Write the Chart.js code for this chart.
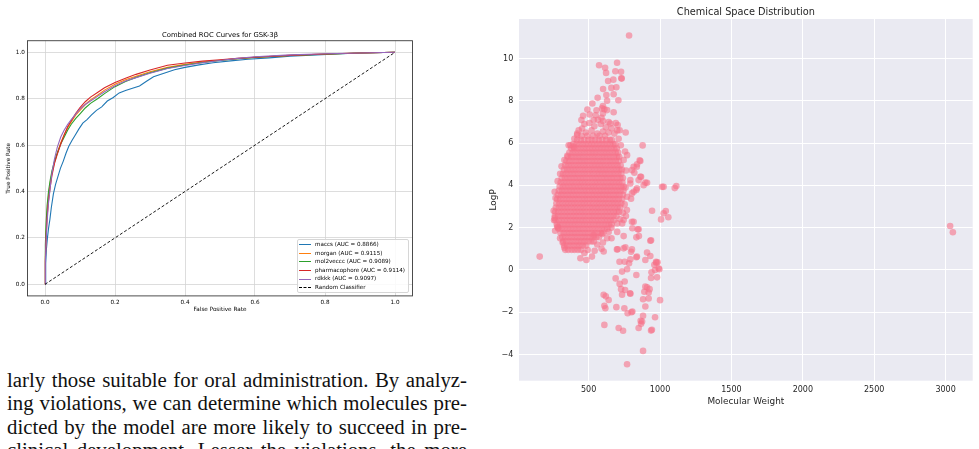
<!DOCTYPE html>
<html><head><meta charset="utf-8">
<script src="https://cdn.jsdelivr.net/npm/chart.js@4.4.0/dist/chart.umd.min.js"></script>
<style>
html,body{margin:0;padding:0;background:#fff;width:979px;height:449px;overflow:hidden;position:relative}
#roc{position:absolute;left:0;top:0;width:420px;height:320px}
#chem{position:absolute;left:480px;top:0;width:499px;height:420px}
#rocLegend{position:absolute;left:296.5px;top:238.6px;width:112px;box-sizing:border-box;background:rgba(255,255,255,0.85);border:1px solid #d6d6d6;border-radius:2px;padding:0.5px 0 0.5px 0;font-family:"DejaVu Sans";font-size:5.6px;color:#000}
#rocLegend .row{position:relative;height:8.6px;line-height:8.6px;white-space:nowrap}
#rocLegend .hl{position:absolute;left:1.5px;top:4.2px;width:11.5px;height:0;border-top:1.1px solid #000}
#rocLegend .tx{position:absolute;left:17.5px;top:0}
.para{position:absolute;left:7px;top:368px;width:460px;font-family:"Liberation Serif";font-size:20.8px;line-height:23.3px;color:#111}
.para div{height:23.3px;text-align:justify;text-align-last:justify}
</style></head>
<body>
<canvas id="roc" width="420" height="320"></canvas>
<div id="rocLegend"></div>
<canvas id="chem" width="499" height="420"></canvas>
<div class="para">
<div>larly those suitable for oral administration. By analyz-</div>
<div>ing violations, we can determine which molecules pre-</div>
<div>dicted by the model are more likely to succeed in pre-</div>
<div>clinical development. Lesser the violations, the more</div>
</div>
<script>
// ---------- ROC data ----------
const modelNames = ['maccs', 'morgan', 'mol2veccc', 'pharmacophore', 'rdkkk'];
const modelAuc = ['0.8866', '0.9115', '0.9089', '0.9114', '0.9097'];
const modelColors = ['#1f77b4', '#ff7f0e', '#2ca02c', '#d62728', '#9467bd'];
const maccsFpr = [0, 0.002, 0.004, 0.007, 0.010, 0.014, 0.018, 0.024, 0.030, 0.036, 0.044, 0.052, 0.060, 0.068, 0.077, 0.087, 0.097, 0.108, 0.120, 0.133, 0.147, 0.162, 0.178, 0.195, 0.212, 0.23, 0.25, 0.27, 0.29, 0.31, 0.34, 0.37, 0.40, 0.44, 0.48, 0.53, 0.58, 0.64, 0.70, 0.76, 0.82, 0.88, 0.94, 1.0];
const maccsTpr = [0, 0.09, 0.15, 0.20, 0.24, 0.28, 0.33, 0.39, 0.43, 0.46, 0.50, 0.53, 0.565, 0.595, 0.62, 0.645, 0.67, 0.695, 0.71, 0.73, 0.75, 0.765, 0.79, 0.805, 0.825, 0.835, 0.845, 0.855, 0.875, 0.895, 0.91, 0.925, 0.935, 0.946, 0.955, 0.963, 0.970, 0.976, 0.983, 0.988, 0.992, 0.996, 0.998, 1.0];
const commonFpr = [0, 0.001, 0.003, 0.006, 0.010, 0.015, 0.020, 0.027, 0.035, 0.045, 0.055, 0.065, 0.075, 0.088, 0.100, 0.115, 0.130, 0.150, 0.170, 0.200, 0.230, 0.260, 0.300, 0.350, 0.400, 0.450, 0.500, 0.550, 0.600, 0.700, 0.800, 0.900, 1.0];
const morganTpr = [0, 0.12, 0.22, 0.31, 0.38, 0.44, 0.48, 0.525, 0.565, 0.61, 0.645, 0.675, 0.70, 0.73, 0.75, 0.775, 0.795, 0.815, 0.837, 0.862, 0.882, 0.897, 0.916, 0.935, 0.948, 0.958, 0.966, 0.973, 0.979, 0.987, 0.993, 0.997, 1.0];
const mol2vecTpr = [0, 0.17, 0.26, 0.34, 0.40, 0.45, 0.49, 0.53, 0.565, 0.605, 0.635, 0.665, 0.69, 0.715, 0.735, 0.76, 0.78, 0.80, 0.822, 0.852, 0.874, 0.892, 0.912, 0.932, 0.945, 0.956, 0.965, 0.972, 0.978, 0.986, 0.992, 0.997, 1.0];
const pharmTpr = [0, 0.10, 0.20, 0.29, 0.36, 0.42, 0.47, 0.52, 0.56, 0.605, 0.645, 0.68, 0.705, 0.737, 0.762, 0.787, 0.807, 0.827, 0.847, 0.870, 0.888, 0.905, 0.924, 0.944, 0.954, 0.962, 0.968, 0.974, 0.979, 0.987, 0.993, 0.997, 1.0];
const rdkitTpr = [0, 0.09, 0.18, 0.27, 0.35, 0.42, 0.48, 0.54, 0.59, 0.635, 0.665, 0.69, 0.71, 0.735, 0.755, 0.775, 0.79, 0.81, 0.83, 0.856, 0.876, 0.891, 0.910, 0.930, 0.943, 0.955, 0.965, 0.974, 0.981, 0.989, 0.994, 0.997, 1.0];
const randomFpr = [0, 1];
const randomTpr = [0, 1];
const rocTicks = [0, 0.2, 0.4, 0.6, 0.8, 1.0];

// ---------- Chemical space data ----------
const blobLogP = [0.95, 1.15, 1.35, 1.55, 1.75, 1.95, 2.15, 2.35, 2.55, 2.75, 2.95, 3.15, 3.35, 3.55, 3.75, 3.95, 4.15, 4.35, 4.55, 4.75, 4.95, 5.15, 5.35, 5.55, 5.75, 5.95, 6.15, 6.35];
const blobMW = [
 [336, 357, 381, 402, 425, 447],
 [328, 350, 371, 394, 416, 437, 459, 482],
 [322, 343, 366, 387, 410, 431, 453, 474, 497, 518, 536],
 [315, 337, 358, 380, 402, 423, 446, 467, 489, 510, 532, 553, 572],
 [303, 325, 347, 368, 390, 411, 434, 455, 477, 498, 520, 542, 563, 585, 603],
 [289, 311, 332, 354, 375, 397, 419, 440, 462, 484, 505, 527, 548, 570, 592, 613, 632],
 [277, 298, 320, 342, 363, 385, 406, 428, 450, 471, 493, 514, 536, 558, 579, 601, 622, 643, 661],
 [267, 289, 310, 332, 353, 375, 397, 418, 440, 461, 483, 505, 526, 548, 569, 591, 613, 634, 656, 677],
 [263, 285, 306, 328, 350, 371, 393, 414, 436, 458, 479, 501, 522, 544, 566, 587, 609, 630, 652, 674, 695],
 [266, 288, 309, 331, 352, 374, 396, 417, 439, 460, 482, 504, 525, 547, 568, 590, 612, 633, 655, 676, 698, 713],
 [270, 292, 313, 335, 356, 378, 400, 421, 443, 464, 486, 508, 529, 551, 572, 594, 616, 637, 659, 680, 702, 721],
 [274, 295, 317, 339, 360, 382, 403, 425, 447, 468, 490, 511, 533, 555, 576, 598, 619, 641, 663, 684, 706, 728],
 [279, 300, 322, 344, 365, 387, 408, 430, 452, 473, 495, 516, 538, 560, 581, 603, 624, 646, 668, 689, 711, 735],
 [284, 306, 327, 349, 371, 392, 414, 435, 457, 479, 500, 522, 543, 565, 587, 608, 630, 651, 673, 695, 716, 740],
 [291, 312, 334, 356, 377, 399, 420, 442, 464, 485, 507, 528, 550, 572, 593, 615, 636, 658, 680, 701, 723, 744],
 [297, 319, 340, 362, 384, 405, 427, 448, 470, 492, 513, 535, 556, 578, 600, 621, 643, 664, 686, 708, 729, 746],
 [304, 326, 347, 369, 390, 412, 434, 455, 477, 498, 520, 542, 563, 585, 606, 628, 650, 671, 693, 714, 736],
 [311, 333, 354, 376, 398, 419, 441, 462, 484, 506, 527, 549, 570, 592, 614, 635, 657, 678, 700, 722, 740],
 [319, 341, 362, 384, 405, 427, 449, 470, 492, 513, 535, 557, 578, 600, 621, 643, 665, 686, 708, 729],
 [327, 349, 370, 392, 413, 435, 457, 478, 500, 521, 543, 565, 586, 608, 629, 651, 673, 694, 716, 733],
 [335, 357, 378, 400, 422, 443, 465, 486, 508, 530, 551, 573, 594, 616, 638, 659, 681, 702, 724],
 [344, 366, 387, 409, 431, 452, 474, 495, 517, 539, 560, 582, 603, 625, 647, 668, 690, 711],
 [354, 376, 397, 419, 440, 462, 484, 505, 527, 548, 570, 592, 613, 635, 656, 678, 700, 714],
 [365, 387, 408, 430, 451, 473, 495, 516, 538, 559, 581, 603, 624, 646, 667, 689, 706],
 [377, 399, 420, 442, 464, 485, 507, 528, 550, 572, 593, 615, 636, 658, 680, 697],
 [392, 414, 435, 457, 479, 500, 522, 543, 565, 587, 608, 630, 651, 673, 686],
 [420, 445, 470, 498, 520, 546, 570, 596, 622, 648, 662],
 [450, 490, 530, 575, 615]
];
const sparsePoints = [
 [783,11.09],[573,9.68],[615,9.56],[699,9.8],[622,9.32],[687,9.4],[727,9.37],[729,9.07],[731,9.05],[636,8.94],[673,9.0],
 [601,8.56],[659,8.61],[694,8.64],[624,8.27],[675,8.31],[708,8.03],[526,7.87],[563,8.14],[629,8.0],[491,7.59],[461,7.29],
 [507,7.35],[549,7.32],[594,7.64],[629,7.56],[675,7.46],[449,7.09],[535,7.09],[601,7.04],[652,6.93],[703,6.85],[759,6.5],
 [717,6.61],[454,6.69],[419,6.38],[878,5.89],[395,5.82],[769,5.43],[745,5.2],[857,5.18],[839,5.0],[837,4.88],[820,4.6],
 [862,4.41],[909,4.12],[792,4.09],[834,3.78],[885,4.01],[769,3.46],
 [480,6.5],[520,6.6],[560,6.45],[600,6.55],[640,6.5],[540,6.8],[585,6.9],[620,6.75],[660,6.7],[505,6.95],[565,7.1],
 [610,7.6],[600,7.4],[590,7.2],[640,7.0],[690,6.95],[700,6.6],[470,6.9],[430,6.6],[680,6.45],[555,7.55],[600,7.75],
 [157,0.63],[268,3.4],[262,2.45],[258,2.35],[265,1.85],[280,2.05],[300,4.55],[330,1.05],[318,1.3],[350,5.4],[372,5.9],[400,6.2],
 [442,0.55],[484,0.47],[523,0.63],[542,0.91],[493,0.94],[605,0.87],[535,1.65],[594,1.7],[629,1.5],[698,0.97],[745,1.02],
 [757,1.07],[803,0.97],[716,0.39],[792,0.5],[838,0.63],[560,1.2],[600,1.3],[640,1.8],[660,2.0],[700,2.2],[720,2.4],[740,2.7],[745,1.6],
 [755,5.6],[762,4.7],[758,3.9],[752,3.1],[735,2.2],[700,1.8],[660,1.5],[590,1.0],[470,0.8],[300,1.5],[285,2.0],[255,2.8],
 [262,3.7],[283,4.2],[310,4.9],[330,5.2],[360,5.9],[420,6.45],[710,6.2],[725,5.9],
 [944,2.8],[815,2.28],[843,1.92],[806,1.97],[834,1.54],[932,1.38],[803,2.28],[850,1.92],[852,1.6],[815,4.88],[862,5.15],
 [803,4.72],[792,4.25],[850,4.25],[867,4.41],[897,4.13],[803,3.62],[815,3.7],[838,3.86],[797,3.37],[768,2.83],[761,2.55],
 [745,2.36],[1014,3.93],[1025,3.93],[1103,3.87],[1114,3.97],[1040,2.79],[1025,2.68],[1007,2.39],[1058,2.49],[3032,2.08],[3051,1.78],
 [703,0.98],[797,0.86],[834,0.6],[909,0.82],[897,0.47],[974,0.34],[960,0.24],[990,0.08],[752,0.39],[783,0.31],[769,0.03],
 [734,-0.08],[834,-0.24],[689,-0.4],[717,-0.66],[752,-0.55],[909,-0.82],[727,-0.91],[755,-0.95],[792,-1.13],[734,-1.17],
 [890,-1.03],[927,-0.91],[605,-1.18],[640,-1.42],[881,-1.39],[920,-1.35],[610,-1.7],[617,-1.81],[694,-1.76],[750,-1.81],
 [773,-2.05],[806,-1.97],[897,-1.73],[965,-2.24],[881,-2.17],[867,-2.55],[864,-2.41],[610,-2.6],[710,-2.75],[741,-2.88],
 [850,-2.75],[943,-2.83],[881,-3.83],[769,-4.46],[937,1.4],[932,0.66],[972,0.38],[983,0.36],[995,0.03],[965,0.0],[940,-0.11],
 [937,-0.38],[979,-0.35],[897,-0.79],[920,-1.07],[1000,-1.43],[874,-2.44],[937,-2.87],[620,-1.25],[800,-2.0],[790,-1.1]
];
const mwTicks = [500, 1000, 1500, 2000, 2500, 3000];
const logpTicks = [-4, -2, 0, 2, 4, 6, 8, 10];

// ---------- helpers ----------
const pairs = (xs, ys) => xs.map((x, i) => ({x: x, y: ys[i]}));
const setTicks = vals => s => { s.ticks = vals.map(v => ({value: v})); };
const framePlugin = {id: 'frame', afterDraw(c) {
  const a = c.chartArea, ctx = c.ctx; ctx.save(); ctx.strokeStyle = '#3a3a3a'; ctx.lineWidth = 0.9;
  ctx.strokeRect(a.left, a.top, a.right - a.left, a.bottom - a.top); ctx.restore(); }};
const bgPlugin = {id: 'bg', beforeDraw(c) {
  const a = c.chartArea, ctx = c.ctx; ctx.save(); ctx.fillStyle = '#eaeaf2';
  ctx.fillRect(a.left, a.top, a.right - a.left, a.bottom - a.top); ctx.restore(); }};

// ---------- ROC chart ----------
const tprs = [maccsTpr, morganTpr, mol2vecTpr, pharmTpr, rdkitTpr];
const fprs = [maccsFpr, commonFpr, commonFpr, commonFpr, commonFpr];
const rocDatasets = modelNames.map((n, i) => ({
  label: n + ' (AUC = ' + modelAuc[i] + ')', data: pairs(fprs[i], tprs[i]), showLine: true,
  borderColor: modelColors[i], borderWidth: 1.1, pointRadius: 0, fill: false, tension: 0, order: 10 - i
}));
rocDatasets.push({label: 'Random Classifier', data: pairs(randomFpr, randomTpr), showLine: true, borderColor: '#000',
  borderWidth: 0.9, borderDash: [3, 2], pointRadius: 0, fill: false, order: 0});
const smallFont = {family: 'DejaVu Sans', size: 5.7};
new Chart(document.getElementById('roc'), {
  type: 'scatter',
  data: {datasets: rocDatasets},
  options: {
    responsive: false, animation: false, events: [],
    layout: {padding: {left: 0, right: 7.5, top: 0, bottom: 0}},
    plugins: {legend: {display: false}, tooltip: {enabled: false},
      title: {display: true, fullSize: false, text: 'Combined ROC Curves for GSK-3β', color: '#000',
        font: {family: 'DejaVu Sans', size: 6.85, weight: 'normal', lineHeight: 1.2}, padding: {top: 31.5, bottom: 1.0}}},
    scales: {
      x: {type: 'linear', min: -0.05, max: 1.05, afterBuildTicks: setTicks(rocTicks), afterFit: s => { s.height = 24.1; },
        grid: {color: '#d4d4d4', lineWidth: 0.8, drawTicks: false}, border: {display: false},
        ticks: {padding: 3, font: smallFont, color: '#000', autoSkip: false, maxRotation: 0, callback: v => v.toFixed(1)},
        title: {display: true, text: 'False Positive Rate', color: '#000', font: {family: 'DejaVu Sans', size: 5.7, lineHeight: 1.2}, padding: {top: 0, bottom: 6.6}}},
      y: {type: 'linear', min: -0.05, max: 1.05, afterBuildTicks: setTicks(rocTicks), afterFit: s => { s.width = 27.5; },
        grid: {color: '#d4d4d4', lineWidth: 0.8, drawTicks: false}, border: {display: false},
        ticks: {padding: 2.6, font: smallFont, color: '#000', autoSkip: false, callback: v => v.toFixed(1)},
        title: {display: true, text: 'True Positive Rate', color: '#000', font: {family: 'DejaVu Sans', size: 5.7, lineHeight: 1.2}, padding: {top: 5.6, bottom: 0}}}
    }
  },
  plugins: [framePlugin]
});
// legend (HTML)
const leg = document.getElementById('rocLegend');
rocDatasets.forEach(d => {
  const row = document.createElement('div'); row.className = 'row';
  const hl = document.createElement('span'); hl.className = 'hl';
  hl.style.borderTopColor = d.borderColor;
  if (d.borderDash) { hl.style.borderTopStyle = 'dashed'; hl.style.borderTopWidth = '0.9px'; }
  const tx = document.createElement('span'); tx.className = 'tx'; tx.textContent = d.label;
  row.appendChild(hl); row.appendChild(tx); leg.appendChild(row);
});

// ---------- Chemical space chart ----------
const chemPoints = [];
blobLogP.forEach((lp, i) => blobMW[i].forEach(mw => chemPoints.push({x: mw, y: lp})));
sparsePoints.forEach(p => chemPoints.push({x: p[0], y: p[1]}));
const tickFont = {family: 'DejaVu Sans', size: 8};
const labFont = {family: 'DejaVu Sans', size: 8.9, lineHeight: 1.2};
new Chart(document.getElementById('chem'), {
  type: 'scatter',
  data: {datasets: [{label: 'molecules', data: chemPoints, backgroundColor: 'rgba(247,113,137,0.6)', borderWidth: 0, pointRadius: 3.3}]},
  options: {
    responsive: false, animation: false, events: [],
    layout: {padding: {left: 0, right: 6.3, top: 0, bottom: 0}},
    plugins: {legend: {display: false}, tooltip: {enabled: false},
      title: {display: true, fullSize: false, text: 'Chemical Space Distribution', color: '#262626',
        font: {family: 'DejaVu Sans', size: 9.75, weight: 'normal', lineHeight: 1.2}, padding: {top: 6.2, bottom: 1.1}}},
    scales: {
      x: {type: 'linear', min: 12, max: 3190, afterBuildTicks: setTicks(mwTicks), afterFit: s => { s.height = 39.3; },
        grid: {color: '#ffffff', lineWidth: 1, drawTicks: false}, border: {display: false},
        ticks: {padding: 4.5, font: tickFont, color: '#262626', autoSkip: false, maxRotation: 0, callback: v => String(v)},
        title: {display: true, text: 'Molecular Weight', color: '#262626', font: labFont, padding: {top: 0, bottom: 12.6}}},
      y: {type: 'linear', min: -5.24, max: 11.87, afterBuildTicks: setTicks(logpTicks), afterFit: s => { s.width = 39; },
        grid: {color: '#ffffff', lineWidth: 1, drawTicks: false}, border: {display: false},
        ticks: {padding: 5.7, font: tickFont, color: '#262626', autoSkip: false, callback: v => (v < 0 ? '\u2212' + Math.abs(v) : String(v))},
        title: {display: true, text: 'LogP', color: '#262626', font: labFont, padding: {top: 8, bottom: 0}}}
    }
  },
  plugins: [bgPlugin]
});
</script>
</body></html>
